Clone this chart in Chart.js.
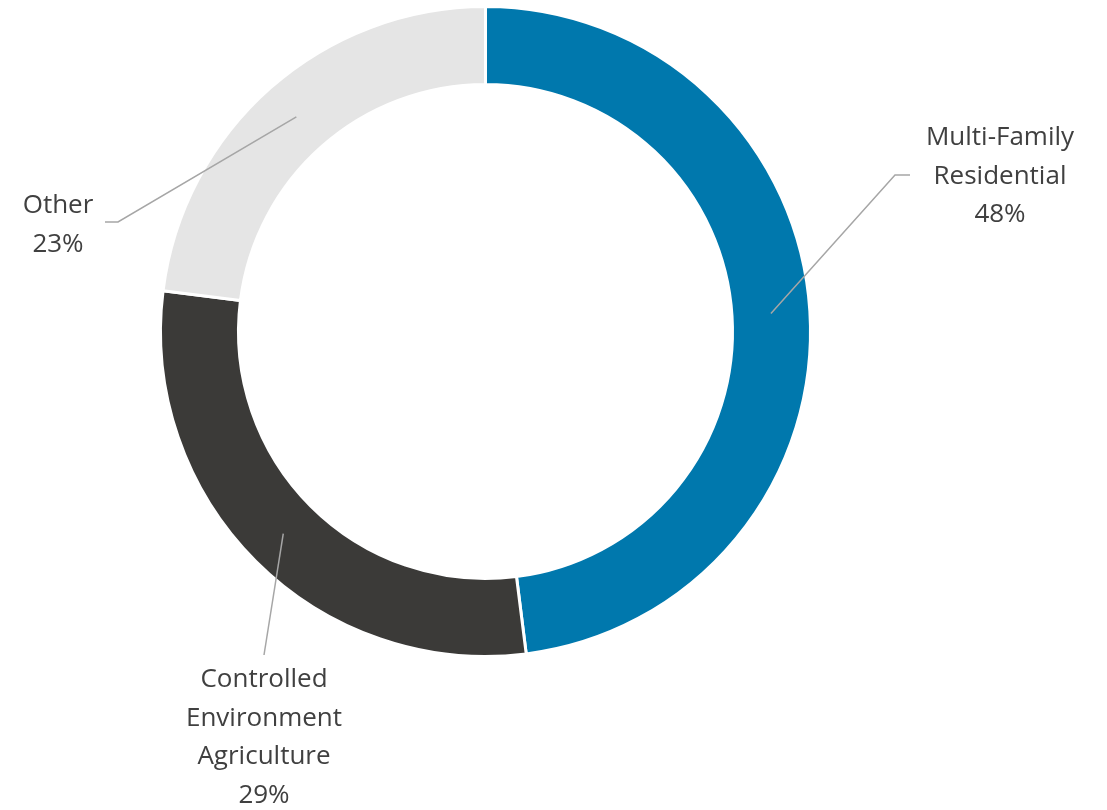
<!doctype html>
<html lang="en">
<head>
    <meta charset="utf-8">
    <title>Doughnut</title>
    <script src="https://cdn.jsdelivr.net/npm/chart.js@4.4.0/dist/chart.umd.min.js"></script>
    <style>
        html, body { margin: 0; padding: 0; background: #fff; }
        #wrap { width: 1107px; height: 810px; position: relative; }
    </style>
</head>
<body>
<div id="wrap"><canvas id="myChart"></canvas></div>
<script>
    // data
    var categories = ['Multi-Family Residential', 'Controlled Environment Agriculture', 'Other'];
    var shares = [48, 29, 23];
    var labelLines = [['Multi-Family', 'Residential'], ['Controlled', 'Environment', 'Agriculture'], ['Other']];
    var colors = ['#0078ad', '#3b3a38', '#e5e5e5'];

    // where each callout goes (elbow point, text centre, text top)
    var callouts = [
        { elbow: [895, 175], end: [910, 175], tx: 1000, ty: 138 },
        { elbow: [264, 655], end: null,       tx: 264,  ty: 680 },
        { elbow: [118, 222], end: [105, 222], tx: 58,   ty: 206 }
    ];

    var calloutPlugin = {
        id: 'callouts',
        afterDatasetsDraw: function (chart) {
            var ctx = chart.ctx;
            var arcs = chart.getDatasetMeta(0).data;
            ctx.save();
            arcs.forEach(function (arc, i) {
                var p = arc.getProps(['x', 'y', 'startAngle', 'endAngle', 'innerRadius', 'outerRadius'], true);
                var mid = (p.startAngle + p.endAngle) / 2;
                var r = (p.innerRadius + p.outerRadius) / 2;
                var sx = p.x + Math.cos(mid) * r;
                var sy = p.y + Math.sin(mid) * r;
                var c = callouts[i];

                ctx.strokeStyle = '#a6a6a6';
                ctx.lineWidth = 1.5;
                ctx.beginPath();
                ctx.moveTo(sx, sy);
                ctx.lineTo(c.elbow[0], c.elbow[1]);
                if (c.end) ctx.lineTo(c.end[0], c.end[1]);
                ctx.stroke();

                ctx.fillStyle = '#404040';
                ctx.font = '26px "Open Sans"';
                ctx.textAlign = 'center';
                ctx.textBaseline = 'middle';
                var lines = labelLines[i].concat([shares[i] + '%']);
                lines.forEach(function (t, k) {
                    ctx.fillText(t, c.tx, c.ty + k * 38.5);
                });
            });
            ctx.restore();
        }
    };

    var ctx = document.getElementById('myChart').getContext('2d');
    var myChart = new Chart(ctx, {
        type: 'doughnut',
        data: {
            labels: categories,
            datasets: [{
                data: shares,
                backgroundColor: colors,
                borderColor: '#ffffff',
                borderWidth: 3,
                hoverOffset: 0
            }]
        },
        options: {
            responsive: true,
            maintainAspectRatio: false,
            animation: false,
            cutout: '76%',
            layout: { padding: { left: 159, right: 295, top: 5, bottom: 152 } },
            plugins: {
                legend: { display: false },
                tooltip: { enabled: false }
            }
        },
        plugins: [calloutPlugin]
    });
</script>
</body>
</html>
